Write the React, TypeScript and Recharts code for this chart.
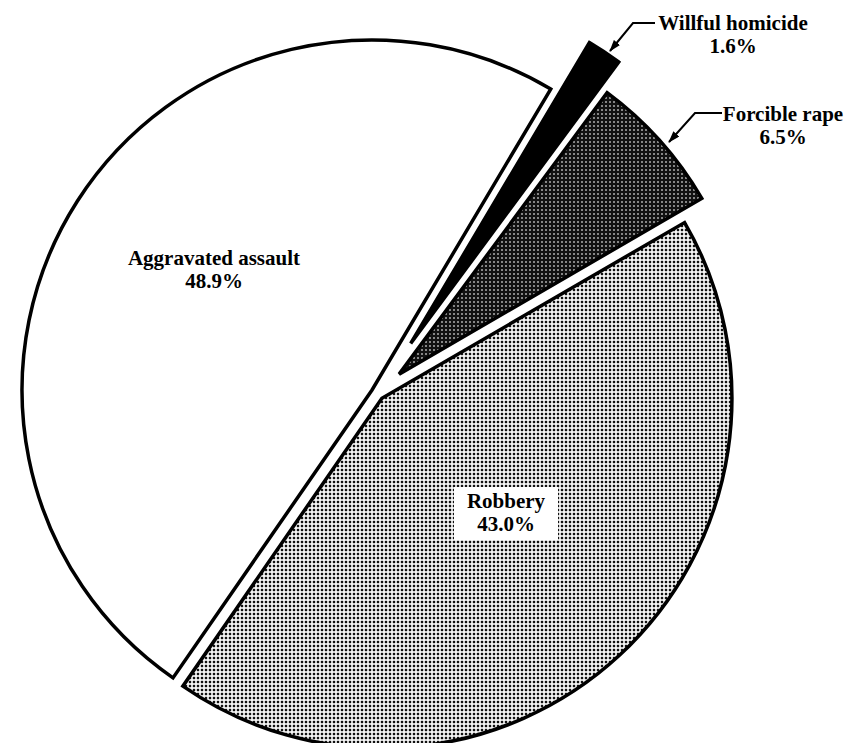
import { PieChart, Pie, Cell } from "recharts";

// crime shares, counter-clockwise from the top-right edge of the white slice
const categories = ["Aggravated assault", "Robbery", "Forcible rape", "Willful homicide"];
const shares = [48.9, 43.0, 6.5, 1.6];
const shareLabels = ["48.9%", "43.0%", "6.5%", "1.6%"];

const W = 855;
const H = 743;
const CX = 377.5;
const CY = 393.5;
const R = 350;
const START = 59.3;
const explode = [6.5, 6.5, 29, 60];
const fills = ["#ffffff", "url(#dotsLight)", "url(#dotsDark)", "#000000"];
const FONT = "'Liberation Serif', 'Times New Roman', serif";

const data = categories.map((name, i) => ({ name, value: shares[i] }));
const total = shares.reduce((a, b) => a + b, 0);

function midAngle(i: number) {
  const before = shares.slice(0, i).reduce((a, b) => a + b, 0);
  return START + ((before + shares[i] / 2) / total) * 360;
}

// label anchor (centre x, first baseline) and arrow path per slice
const labelPos: [number, number][] = [
  [214, 265],
  [506, 508],
  [783, 121],
  [733, 30],
];
const arrows: Record<number, [number, number][]> = {
  2: [[722, 113], [695, 113], [669, 142]],
  3: [[655, 23], [633, 23], [610, 51]],
};

export default function App() {
  return (
    <div style={{ position: "absolute", left: 0, top: 0, width: W, height: H, background: "#fff" }}>
      <PieChart width={W} height={H} margin={{ top: 0, right: 0, bottom: 0, left: 0 }}>
        <defs>
          <pattern id="dotsLight" width={4} height={4} patternUnits="userSpaceOnUse">
            <rect width={4} height={4} fill="#fff" />
            <rect x={0.8} y={0.8} width={2.4} height={2.4} fill="#111" />
          </pattern>
          <pattern id="dotsDark" width={4} height={4} patternUnits="userSpaceOnUse">
            <rect width={4} height={4} fill="#111" />
            <rect x={1.3} y={1.3} width={1.4} height={1.4} fill="#fff" />
          </pattern>
        </defs>
        {categories.map((name, i) => {
          const a = (midAngle(i) * Math.PI) / 180;
          return (
            <Pie
              key={name}
              data={data}
              dataKey="value"
              nameKey="name"
              cx={CX + explode[i] * Math.cos(a)}
              cy={CY - explode[i] * Math.sin(a)}
              innerRadius={0}
              outerRadius={R}
              startAngle={START}
              endAngle={START + 360}
              isAnimationActive={false}
              label={false}
              labelLine={false}
            >
              {data.map((d, j) => (
                <Cell
                  key={d.name}
                  fill={j === i ? fills[j] : "none"}
                  stroke={j === i ? "#000" : "none"}
                  strokeWidth={3.5}
                  strokeLinejoin="miter"
                />
              ))}
            </Pie>
          );
        })}
      </PieChart>
      <svg
        width={W}
        height={H}
        style={{ position: "absolute", left: 0, top: 0, pointerEvents: "none" }}
      >
        <defs>
          <marker id="arrowHead" markerWidth={12} markerHeight={8} refX={11} refY={4}
            orient="auto" markerUnits="userSpaceOnUse">
            <path d="M0,0 L12,4 L0,8 z" fill="#000" />
          </marker>
        </defs>
        <rect x={454} y={487} width={104} height={53} fill="#fff" />
        {Object.entries(arrows).map(([k, pts]) => (
          <polyline
            key={k}
            points={pts.map((p) => p.join(",")).join(" ")}
            fill="none"
            stroke="#000"
            strokeWidth={2}
            markerEnd="url(#arrowHead)"
          />
        ))}
        {categories.map((name, i) => (
          <text
            key={name}
            x={labelPos[i][0]}
            y={labelPos[i][1]}
            textAnchor="middle"
            fontFamily={FONT}
            fontSize={21}
            fontWeight="bold"
            fill="#000"
          >
            <tspan x={labelPos[i][0]}>{name}</tspan>
            <tspan x={labelPos[i][0]} dy={23}>{shareLabels[i]}</tspan>
          </text>
        ))}
      </svg>
    </div>
  );
}
